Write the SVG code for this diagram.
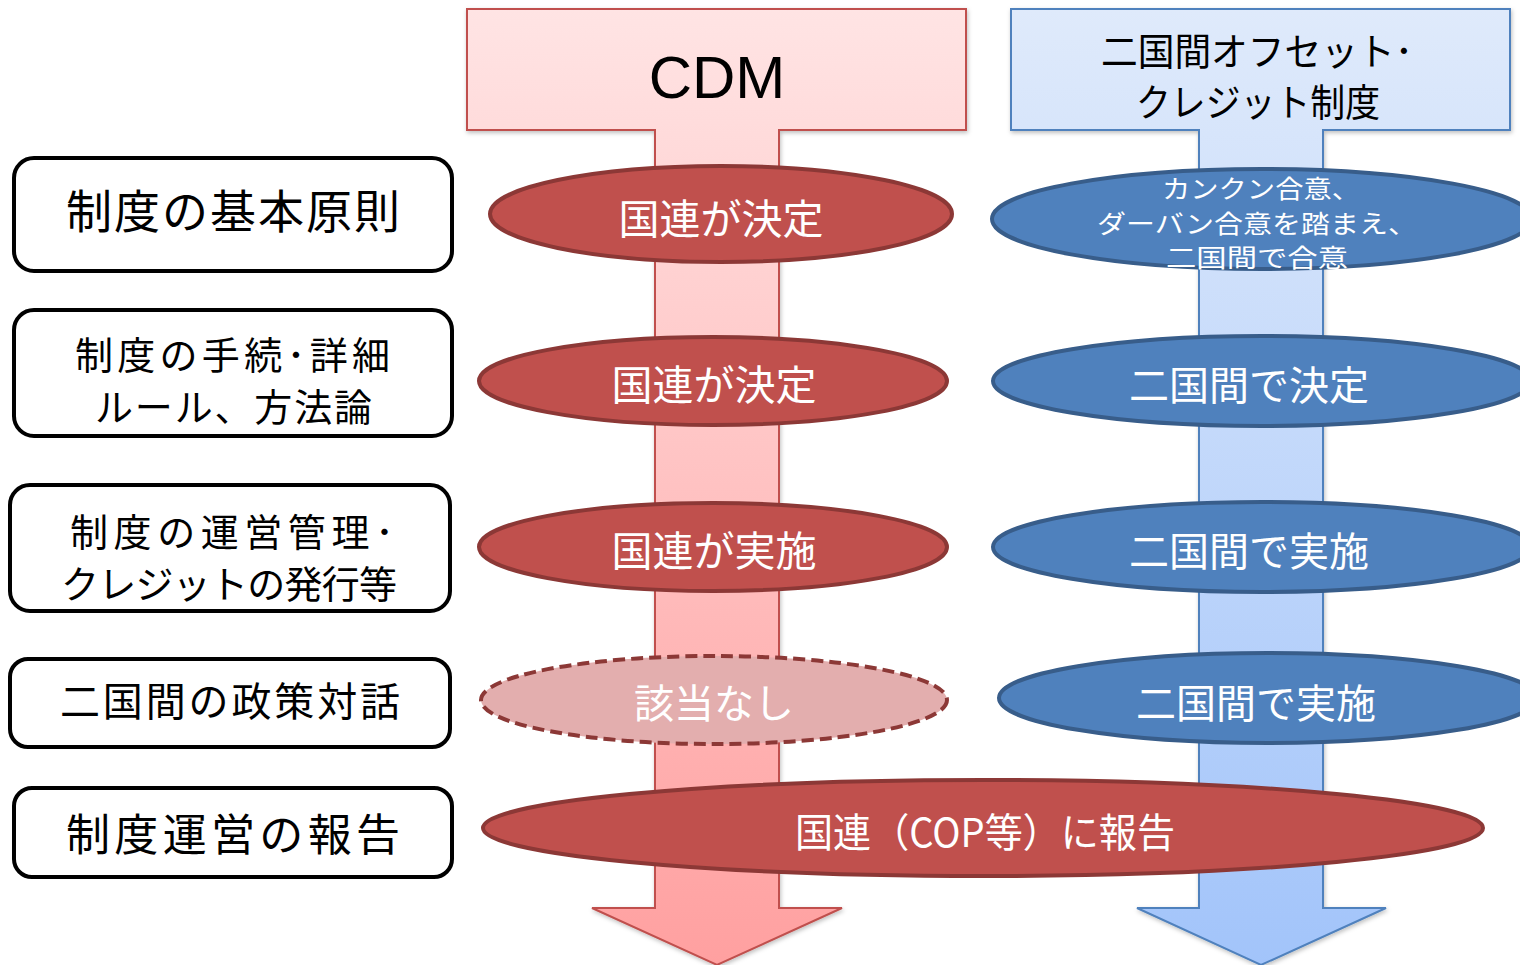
<svg xmlns="http://www.w3.org/2000/svg" width="1520" height="965" viewBox="0 0 1520 965">
<defs>
<linearGradient id="gRed" gradientUnits="userSpaceOnUse" x1="0" y1="9" x2="0" y2="965">
<stop offset="0" stop-color="#FFE4E4"/><stop offset="1" stop-color="#FFA0A0"/>
</linearGradient>
<linearGradient id="gBlue" gradientUnits="userSpaceOnUse" x1="0" y1="9" x2="0" y2="965">
<stop offset="0" stop-color="#DFEAFB"/><stop offset="1" stop-color="#A2C4FA"/>
</linearGradient>
<filter id="sh" x="-10%" y="-10%" width="120%" height="120%">
<feDropShadow dx="1" dy="2" stdDeviation="2" flood-color="#000" flood-opacity="0.25"/>
</filter>
<style>
.box{fill:#fff;stroke:#000;stroke-width:4}
.lt{font-family:"Noto Sans CJK JP","Noto Sans",sans-serif;fill:#000}
.wt{font-family:"Noto Sans CJK JP","Noto Sans",sans-serif;fill:#fff}
.er{fill:#C0504D;stroke:#8C3836;stroke-width:4}
.eb{fill:#4F81BD;stroke:#385D8A;stroke-width:4}
.ed{fill:#E3AEAE;stroke:#8C3836;stroke-width:4;stroke-dasharray:12 6}
</style>
</defs>
<rect width="1520" height="965" fill="#fff"/>

<g id="connectors">
<path id="arrow-cdm" d="M467,9 H966 V130 H779 V908 H842 L717,965 L592,908 H655 V130 H467 Z" fill="url(#gRed)" stroke="#C0504D" stroke-width="2" filter="url(#sh)"/>
<path id="arrow-jcm" d="M1011,9 H1510 V130 H1323 V908 H1386 L1261,965 L1137,908 H1199 V130 H1011 Z" fill="url(#gBlue)" stroke="#4F81BD" stroke-width="2" filter="url(#sh)"/>
</g>

<g id="head-cdm">
<text x="717" y="98" text-anchor="middle" font-family="'Liberation Sans',Arial,sans-serif" font-size="60" fill="#000">CDM</text>
</g>
<g id="head-jcm">
<text class="lt" x="1101" y="65" font-size="38" textLength="312" lengthAdjust="spacingAndGlyphs">二国間オフセット･</text>
<text class="lt" x="1136" y="116" font-size="38" textLength="244" lengthAdjust="spacingAndGlyphs">クレジット制度</text>
</g>

<g id="row1-label">
<rect class="box" x="14" y="158" width="438" height="113" rx="20"/>
<text class="lt" x="66" y="228" font-size="46" textLength="334">制度の基本原則</text>
</g>
<g id="row2-label">
<rect class="box" x="14" y="310" width="438" height="126" rx="20"/>
<text class="lt" x="75" y="369" font-size="38" textLength="315">制度の手続･詳細</text>
<text class="lt" x="95" y="421" font-size="38" textLength="277">ルール、方法論</text>
</g>
<g id="row3-label">
<rect class="box" x="10" y="485" width="440" height="126" rx="20"/>
<text class="lt" x="70" y="546" font-size="38" textLength="324">制度の運営管理･</text>
<text class="lt" x="61" y="598" font-size="38" textLength="336">クレジットの発行等</text>
</g>
<g id="row4-label">
<rect class="box" x="10" y="659" width="440" height="88" rx="18"/>
<text class="lt" x="60" y="716" font-size="40" textLength="340">二国間の政策対話</text>
</g>
<g id="row5-label">
<rect class="box" x="14" y="788" width="438" height="89" rx="18"/>
<text class="lt" x="66" y="851" font-size="44" textLength="334">制度運営の報告</text>
</g>

<g id="cdm-1">
<ellipse class="er" cx="721" cy="214" rx="231" ry="48"/>
<text class="wt" x="721" y="234" font-size="41" text-anchor="middle">国連が決定</text>
</g>
<g id="cdm-2">
<ellipse class="er" cx="713" cy="381" rx="234" ry="44"/>
<text class="wt" x="714" y="400" font-size="41" text-anchor="middle">国連が決定</text>
</g>
<g id="cdm-3">
<ellipse class="er" cx="713" cy="547" rx="234" ry="44"/>
<text class="wt" x="714" y="566" font-size="41" text-anchor="middle">国連が実施</text>
</g>
<g id="cdm-4">
<ellipse class="ed" cx="714" cy="700" rx="233" ry="44"/>
<text class="wt" x="714" y="718" font-size="40" text-anchor="middle">該当なし</text>
</g>

<g id="jcm-1">
<ellipse class="eb" cx="1262" cy="219" rx="270" ry="50"/>
<text class="wt" x="1162" y="198" font-size="25" textLength="198" lengthAdjust="spacingAndGlyphs">カンクン合意、</text>
<text class="wt" x="1097" y="232.5" font-size="25" textLength="320" lengthAdjust="spacingAndGlyphs">ダーバン合意を踏まえ、</text>
<text class="wt" x="1166" y="267" font-size="25" textLength="182" lengthAdjust="spacingAndGlyphs">二国間で合意</text>
</g>
<g id="jcm-2">
<ellipse class="eb" cx="1262" cy="381" rx="269" ry="45"/>
<text class="wt" x="1249" y="400" font-size="40" text-anchor="middle">二国間で決定</text>
</g>
<g id="jcm-3">
<ellipse class="eb" cx="1262" cy="547" rx="269" ry="45"/>
<text class="wt" x="1249" y="566" font-size="40" text-anchor="middle">二国間で実施</text>
</g>
<g id="jcm-4">
<ellipse class="eb" cx="1268" cy="698" rx="269" ry="45"/>
<text class="wt" x="1256" y="718" font-size="40" text-anchor="middle">二国間で実施</text>
</g>

<g id="report">
<ellipse class="er" cx="983" cy="828" rx="500" ry="48"/>
<text class="wt" x="795" y="847" font-size="40" textLength="380" lengthAdjust="spacingAndGlyphs">国連（COP等）に報告</text>
</g>
</svg>
